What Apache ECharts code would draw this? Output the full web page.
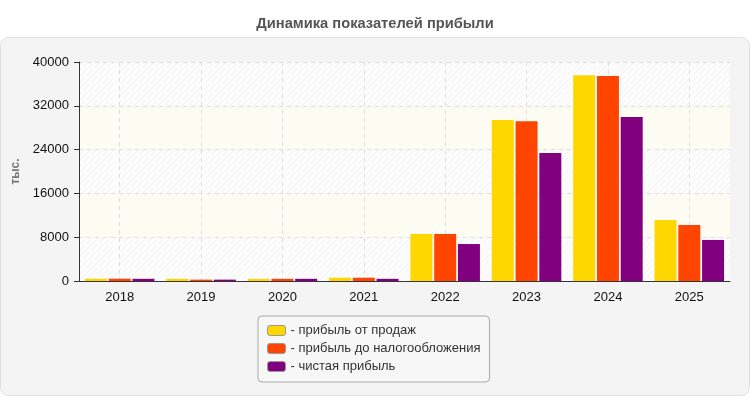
<!DOCTYPE html>
<html>
<head>
<meta charset="utf-8">
<script src="https://cdn.jsdelivr.net/npm/echarts@6/dist/echarts.min.js"></script>
<style>
    html, body { margin: 0; padding: 0; background: #fff; }
    #chart { width: 750px; height: 400px; }
</style>
</head>
<body>
<div id="chart"></div>
<script>
    // данные
    var years = ['2018', '2019', '2020', '2021', '2022', '2023', '2024', '2025'];
    var salesProfit = [420, 400, 400, 600, 8600, 29400, 37600, 11150];
    var preTaxProfit = [420, 250, 400, 600, 8600, 29200, 37450, 10250];
    var netProfit = [400, 250, 400, 400, 6750, 23400, 29950, 7500];
    var seriesNames = ['прибыль от продаж', 'прибыль до налогообложения', 'чистая прибыль'];
    var seriesColors = ['#FFD700', '#FF4500', '#800080'];

    // штриховка для фона
    function hatch() {
        var c = document.createElement('canvas');
        c.width = 6;
        c.height = 6;
        var ctx = c.getContext('2d');
        ctx.fillStyle = '#fdfdfd';
        ctx.fillRect(0, 0, 6, 6);
        ctx.strokeStyle = '#f1f1f1';
        ctx.lineWidth = 1;
        ctx.beginPath();
        ctx.moveTo(0, 6);
        ctx.lineTo(6, 0);
        ctx.stroke();
        return c;
    }

    var myChart = echarts.init(document.getElementById('chart'));
    var font = "'Liberation Sans', Arial, sans-serif";
    var option = {
        animation: false,
        textStyle: {fontFamily: font},
        title: {
            text: 'Динамика показателей прибыли',
            left: 'center',
            top: 11,
            textStyle: {fontSize: 14.7, fontWeight: 'bold', color: '#555', fontFamily: font}
        },
        graphic: [{
            type: 'rect',
            z: -10,
            shape: {x: 0.5, y: 37.5, width: 749, height: 358, r: 8},
            style: {fill: '#f4f4f4', stroke: '#e0e0e0', lineWidth: 1}
        }],
        legend: {
            orient: 'vertical',
            left: 258,
            top: 316,
            padding: [8, 9, 9, 9],
            itemGap: 5,
            itemWidth: 18,
            itemHeight: 10,
            icon: 'roundRect',
            backgroundColor: '#f7f7f7',
            borderColor: '#aaa',
            borderWidth: 1,
            borderRadius: 4,
            itemStyle: {borderColor: '#999', borderWidth: 1},
            formatter: '- {name}',
            textStyle: {fontSize: 13, color: '#333', fontFamily: font},
            data: seriesNames
        },
        grid: {left: 79, right: 20, top: 62, bottom: 119},
        xAxis: {
            type: 'category',
            data: years,
            axisLine: {lineStyle: {color: '#333'}},
            axisTick: {alignWithLabel: true, length: 4, lineStyle: {color: '#333'}},
            axisLabel: {fontSize: 13, color: '#111', margin: 10, fontFamily: font},
            splitLine: {show: true, alignWithLabel: true, lineStyle: {color: '#dddddd', type: [4, 4]}}
        },
        yAxis: {
            type: 'value',
            min: 0,
            max: 40000,
            interval: 8000,
            name: 'тыс.',
            nameLocation: 'middle',
            nameGap: 55,
            nameTextStyle: {fontSize: 12, fontWeight: 'bold', color: '#777', fontFamily: font},
            axisLine: {show: true, lineStyle: {color: '#333'}},
            axisTick: {show: true, length: 5, lineStyle: {color: '#333'}},
            axisLabel: {
                fontSize: 13, color: '#111', margin: 10, fontFamily: font,
                formatter: function (v) { return String(v); }
            },
            splitLine: {lineStyle: {color: '#dddddd', type: [4, 4]}},
            splitArea: {
                show: true,
                areaStyle: {color: [{image: hatch(), repeat: 'repeat'}, '#fcfcf3']}
            }
        },
        series: [
            {
                name: seriesNames[0], type: 'bar', data: salesProfit,
                barWidth: 22, barGap: '8%',
                itemStyle: {color: seriesColors[0]}
            },
            {
                name: seriesNames[1], type: 'bar', data: preTaxProfit,
                barWidth: 22, barGap: '8%',
                itemStyle: {color: seriesColors[1]}
            },
            {
                name: seriesNames[2], type: 'bar', data: netProfit,
                barWidth: 22, barGap: '8%',
                itemStyle: {color: seriesColors[2]}
            }
        ]
    };
    myChart.setOption(option);
</script>
</body>
</html>
